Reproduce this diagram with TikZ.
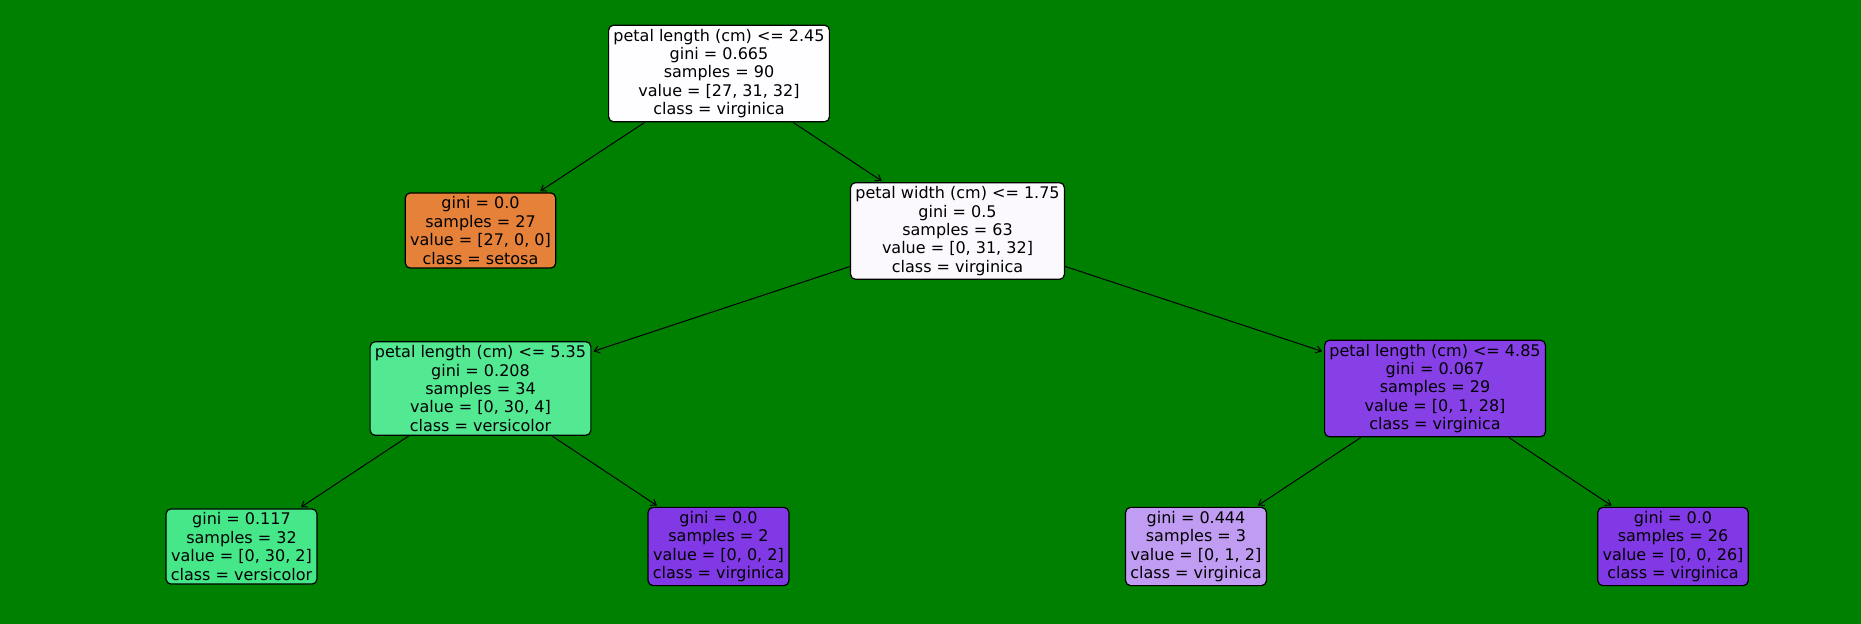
\documentclass[tikz,border=0pt]{standalone}
\usepackage{fontspec}
\setmainfont{DejaVu Sans}
\usepackage{xcolor}
\usepackage{tikz}
\usetikzlibrary{arrows.meta}

\definecolor{bggreen}{HTML}{008000}
\definecolor{setosacol}{HTML}{E58139}
\definecolor{rootcol}{HTML}{FEFDFF}
\definecolor{widthcol}{HTML}{FBF9FE}
\definecolor{vercolA}{HTML}{53E892}
\definecolor{vercolB}{HTML}{46E789}
\definecolor{vircolA}{HTML}{8640E6}
\definecolor{vircolB}{HTML}{8139E5}
\definecolor{vircolC}{HTML}{C09CF2}

\begin{document}
\begin{tikzpicture}[x=0.5pt, y=-0.5pt,
  treenode/.style={draw=black, line width=0.6pt, rounded corners=2.5pt,
    align=center, inner xsep=2.4pt, inner ysep=1.9pt,
    font=\fontsize{8}{9.2}\selectfont},
  edge/.style={line width=0.5pt, -{Straight Barb[length=2.6pt, width=3.6pt]},
    shorten >=1pt}]
  \fill[bggreen] (0,0) rectangle (1861,624);  % background
  \useasboundingbox (0,0) rectangle (1861,624);

  % depth 0
  \node[treenode, fill=rootcol] (root) at (719,73.5)
    {petal length (cm) <= 2.45\\gini = 0.665\\samples = 90\\value = [27, 31, 32]\\class = virginica};

  % depth 1
  \node[treenode, fill=setosacol] (setosa) at (480.5,230.5)
    {gini = 0.0\\samples = 27\\value = [27, 0, 0]\\class = setosa};
  \node[treenode, fill=widthcol] (pwidth) at (957.5,231)
    {petal width (cm) <= 1.75\\gini = 0.5\\samples = 63\\value = [0, 31, 32]\\class = virginica};

  % depth 2
  \node[treenode, fill=vercolA] (plenA) at (480.5,388.5)
    {petal length (cm) <= 5.35\\gini = 0.208\\samples = 34\\value = [0, 30, 4]\\class = versicolor};
  \node[treenode, fill=vircolA] (plenB) at (1435,388.5)
    {petal length (cm) <= 4.85\\gini = 0.067\\samples = 29\\value = [0, 1, 28]\\class = virginica};

  % depth 3 (leaves)
  \node[treenode, fill=vercolB] (leafA) at (241.5,546.5)
    {gini = 0.117\\samples = 32\\value = [0, 30, 2]\\class = versicolor};
  \node[treenode, fill=vircolB] (leafB) at (718.5,546.5)
    {gini = 0.0\\samples = 2\\value = [0, 0, 2]\\class = virginica};
  \node[treenode, fill=vircolC] (leafC) at (1196,546.5)
    {gini = 0.444\\samples = 3\\value = [0, 1, 2]\\class = virginica};
  \node[treenode, fill=vircolB] (leafD) at (1673,546.5)
    {gini = 0.0\\samples = 26\\value = [0, 0, 26]\\class = virginica};

  % connectors
  \draw[edge] (root) -- (setosa);
  \draw[edge] (root) -- (pwidth);
  \draw[edge] (pwidth) -- (plenA);
  \draw[edge] (pwidth) -- (plenB);
  \draw[edge] (plenA) -- (leafA);
  \draw[edge] (plenA) -- (leafB);
  \draw[edge] (plenB) -- (leafC);
  \draw[edge] (plenB) -- (leafD);
\end{tikzpicture}
\end{document}
